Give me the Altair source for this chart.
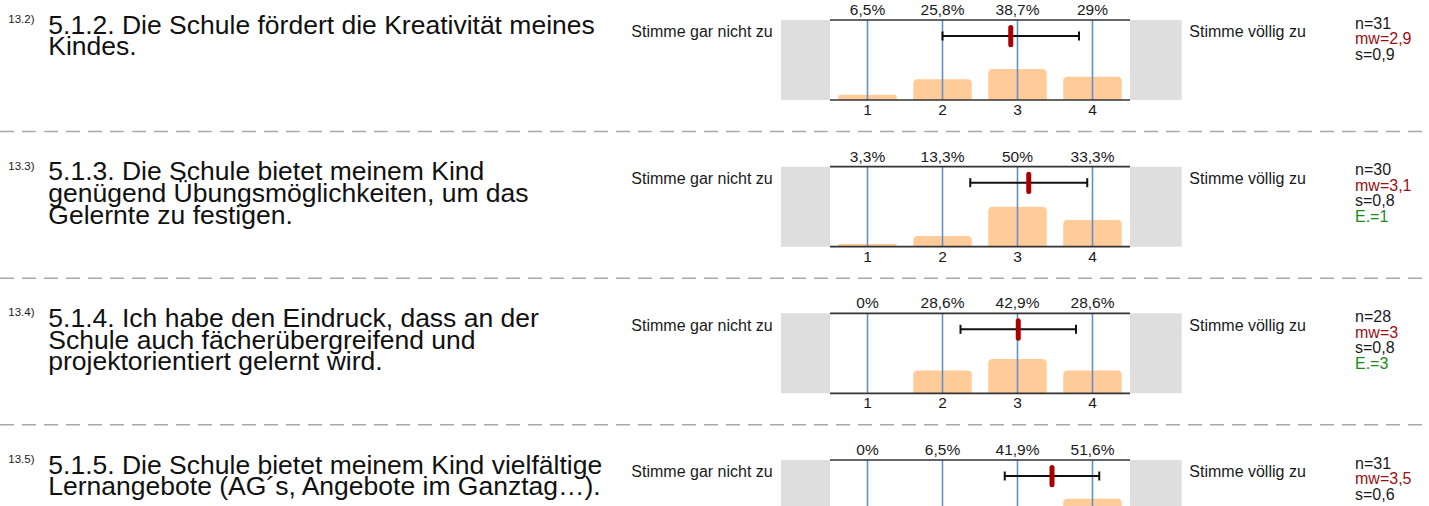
import altair as alt
import pandas as pd

# ---------------- data ----------------
numbers = ["13.2)", "13.3)", "13.4)", "13.5)"]
questions = [
    "5.1.2. Die Schule fördert die Kreativität meines\nKindes.",
    "5.1.3. Die Schule bietet meinem Kind\ngenügend Übungsmöglichkeiten, um das\nGelernte zu festigen.",
    "5.1.4. Ich habe den Eindruck, dass an der\nSchule auch fächerübergreifend und\nprojektorientiert gelernt wird.",
    "5.1.5. Die Schule bietet meinem Kind vielfältige\nLernangebote (AG´s, Angebote im Ganztag…).",
]
scale_points = [1, 2, 3, 4]
percents = [
    [6.5, 25.8, 38.7, 29.0],
    [3.3, 13.3, 50.0, 33.3],
    [0.0, 28.6, 42.9, 28.6],
    [0.0, 6.5, 41.9, 51.6],
]
n_values = [31, 30, 28, 31]
means = [2.91, 3.15, 3.01, 3.46]
sds = [0.91, 0.78, 0.77, 0.63]
mw_labels = ["2,9", "3,1", "3", "3,5"]
s_labels = ["0,9", "0,8", "0,8", "0,6"]
e_labels = ["", "1", "3", ""]
left_label = "Stimme gar nicht zu"
right_label = "Stimme völlig zu"

# ---------------- layout ----------------
W, H = 1429, 506
PX_PER_UNIT = 75.0      # pixels per scale point
X_HALF = 830.0          # pixel of x = 0.5
PCT_PX = 0.8            # pixels per percent
TOP0 = 20.0             # top line of first row
ROW_PX = 146.667
ROW_UNITS = ROW_PX / PCT_PX
FONT = "Liberation Sans"


def xv(p):
    return (p - X_HALF) / PX_PER_UNIT + 0.5


def ypx(d):
    """d pixels below a row's top line -> local y units"""
    return 100 - d / PCT_PX


XS = alt.Scale(domain=[xv(0), xv(W)], nice=False, zero=False)
YS = alt.Scale(domain=[ypx(H - TOP0), ypx(-TOP0)], nice=False, zero=False)


def fmt(v):
    return f"{v:g}".replace(".", ",")


def shift(expr):
    return f"({expr}) - datum.row * {ROW_UNITS}"


rows_df = pd.DataFrame({
    "row": list(range(4)),
    "num": numbers,
    "question": questions,
    "mean": means,
    "sd": sds,
    "n": [f"n={v}" for v in n_values],
    "mw": [f"mw={v}" for v in mw_labels],
    "s": [f"s={v}" for v in s_labels],
    "e": [f"E.={v}" if v else "" for v in e_labels],
    "left": [left_label] * 4,
    "right": [right_label] * 4,
})

cells = []
for r in range(4):
    for k, p in zip(scale_points, percents[r]):
        cells.append({"row": r, "k": k, "pct": p, "label": fmt(p) + "%", "tick": str(k)})
cells_df = pd.DataFrame(cells)


def X(f):
    return alt.X(f"{f}:Q", scale=XS, axis=None)


def Y(f):
    return alt.Y(f"{f}:Q", scale=YS, axis=None)


base_rows = alt.Chart(rows_df)
base_cells = alt.Chart(cells_df)

# grey side boxes
grey_left = base_rows.transform_calculate(
    xa=str(xv(781)), xb="0.5", ya=shift("100"), yb=shift("0")
).mark_rect(color="#dedede", clip=True).encode(x=X("xa"), x2="xb:Q", y=Y("ya"), y2="yb:Q")
grey_right = base_rows.transform_calculate(
    xa="4.5", xb=str(xv(1181.7)), ya=shift("100"), yb=shift("0")
).mark_rect(color="#dedede", clip=True).encode(x=X("xa"), x2="xb:Q", y=Y("ya"), y2="yb:Q")

# bars
bars = base_cells.transform_filter("datum.pct > 0").transform_calculate(
    xa="datum.k - 0.39", xb="datum.k + 0.39", ya=shift("datum.pct"), yb=shift("0")
).mark_bar(color="#FFCC99", cornerRadiusTopLeft=4, cornerRadiusTopRight=4, clip=True).encode(
    x=X("xa"), x2="xb:Q", y=Y("ya"), y2="yb:Q")

# blue vertical lines
vlines = base_cells.transform_calculate(
    ya=shift("100"), yb=shift("0")
).mark_rule(color="#5F93C6", strokeWidth=1.6, clip=True).encode(x=X("k"), y=Y("ya"), y2="yb:Q")

# top & bottom black lines
top_line = base_rows.transform_calculate(
    xa="0.5", xb="4.5", ya=shift("100")
).mark_rule(color="#333333", strokeWidth=1.6, clip=True).encode(x=X("xa"), x2="xb:Q", y=Y("ya"))
bottom_line = base_rows.transform_calculate(
    xa="0.5", xb="4.5", ya=shift("0")
).mark_rule(color="#333333", strokeWidth=1.6, clip=True).encode(x=X("xa"), x2="xb:Q", y=Y("ya"))

# error bar
err = base_rows.transform_calculate(
    xa="datum.mean - datum.sd", xb="datum.mean + datum.sd", ya=shift(str(ypx(16)))
).mark_rule(color="#111111", strokeWidth=2, clip=True).encode(x=X("xa"), x2="xb:Q", y=Y("ya"))
cap_lo = base_rows.transform_calculate(
    xa="datum.mean - datum.sd", ya=shift(str(ypx(11.5))), yb=shift(str(ypx(20.5)))
).mark_rule(color="#111111", strokeWidth=2, clip=True).encode(x=X("xa"), y=Y("ya"), y2="yb:Q")
cap_hi = base_rows.transform_calculate(
    xa="datum.mean + datum.sd", ya=shift(str(ypx(11.5))), yb=shift(str(ypx(20.5)))
).mark_rule(color="#111111", strokeWidth=2, clip=True).encode(x=X("xa"), y=Y("ya"), y2="yb:Q")
marker = base_rows.transform_calculate(
    ya=shift(str(ypx(7.5))), yb=shift(str(ypx(24.8)))
).mark_rule(color="#AA0000", strokeWidth=5, strokeCap="round", clip=True).encode(
    x=X("mean"), y=Y("ya"), y2="yb:Q")

# percent labels and tick labels
pct_text = base_cells.transform_calculate(ya=shift(str(ypx(-5)))).mark_text(
    font=FONT, fontSize=15.5, color="#1a1a1a", baseline="alphabetic", align="center", clip=True
).encode(x=X("k"), y=Y("ya"), text="label:N")
tick_text = base_cells.transform_filter("datum.row < 3").transform_calculate(
    ya=shift(str(ypx(95)))).mark_text(
    font=FONT, fontSize=15.5, color="#1a1a1a", baseline="alphabetic", align="center", clip=True
).encode(x=X("k"), y=Y("ya"), text="tick:N")

# side labels
left_text = base_rows.transform_calculate(xa=str(xv(772.7)), ya=shift(str(ypx(17.3)))).mark_text(
    font=FONT, fontSize=16, color="#1a1a1a", baseline="alphabetic", align="right", clip=True
).encode(x=X("xa"), y=Y("ya"), text="left:N")
right_text = base_rows.transform_calculate(xa=str(xv(1189.3)), ya=shift(str(ypx(17.3)))).mark_text(
    font=FONT, fontSize=16, color="#1a1a1a", baseline="alphabetic", align="left", clip=True
).encode(x=X("xa"), y=Y("ya"), text="right:N")

# stats
stat_layers = []
for field, off, col in [("n", 8.7, "#1a1a1a"), ("mw", 24.2, "#9b1010"),
                        ("s", 39.7, "#1a1a1a"), ("e", 55.2, "#1a8a1a")]:
    stat_layers.append(
        base_rows.transform_calculate(xa=str(xv(1355)), ya=shift(str(ypx(off)))).mark_text(
            font=FONT, fontSize=16, color=col, baseline="alphabetic", align="left", clip=True
        ).encode(x=X("xa"), y=Y("ya"), text=f"{field}:N")
    )

# question number & text
num_text = base_rows.transform_calculate(xa=str(xv(8.3)), ya=shift(str(ypx(3)))).mark_text(
    font=FONT, fontSize=11.5, color="#1a1a1a", baseline="alphabetic", align="left", clip=True
).encode(x=X("xa"), y=Y("ya"), text="num:N")
q_text = base_rows.transform_calculate(xa=str(xv(48.3)), ya=shift(str(ypx(13.5)))).mark_text(
    font=FONT, fontSize=26.5, color="#111111", baseline="alphabetic", align="left",
    lineBreak="\n", lineHeight=21.7, clip=True
).encode(x=X("xa"), y=Y("ya"), text="question:N")

# dashed separators
sep = base_rows.transform_filter("datum.row < 3").transform_calculate(
    xa=str(xv(0)), xb=str(xv(W)), ya=shift(str(ypx(111.5)))
).mark_rule(color="#a8a8a8", strokeWidth=1.5, strokeDash=[14, 8], clip=True).encode(
    x=X("xa"), x2="xb:Q", y=Y("ya"))

chart = alt.layer(
    sep, grey_left, grey_right, bars, vlines, top_line, bottom_line,
    err, cap_lo, cap_hi, marker, pct_text, tick_text, left_text, right_text,
    *stat_layers, num_text, q_text
).properties(
    width=W, height=H, padding=0,
    autosize=alt.AutoSizeParams(type="none", contains="padding"),
).configure_view(stroke=None)

chart.save("out.html", embed_options={"renderer": "svg", "actions": False})
